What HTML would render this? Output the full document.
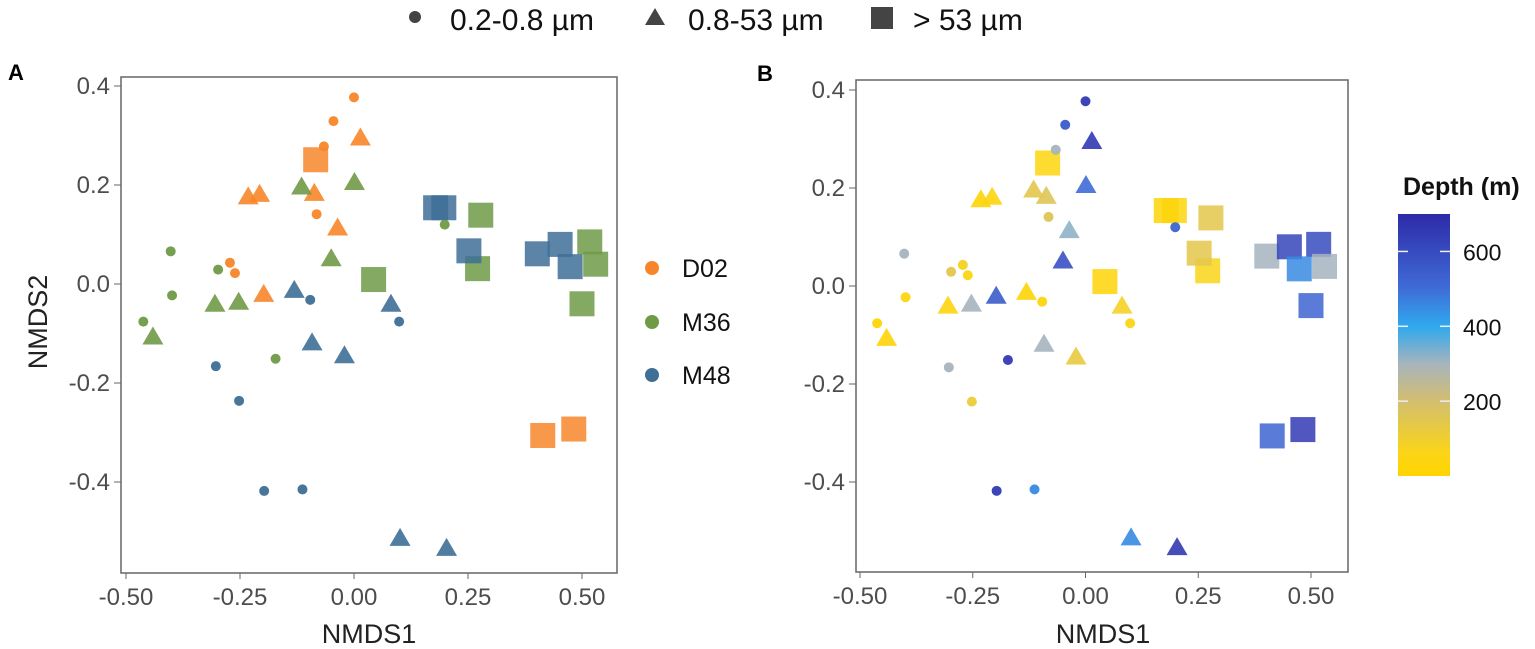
<!DOCTYPE html>
<html><head><meta charset="utf-8"><style>
body{margin:0;background:#fff;}
svg{display:block;font-family:"Liberation Sans",sans-serif;}
</style></head><body>
<svg id="chart" width="1535" height="649" viewBox="0 0 1535 649" xmlns="http://www.w3.org/2000/svg">
<defs>
<linearGradient id="depthGrad" x1="0" y1="1" x2="0" y2="0">
<stop offset="0" stop-color="#FFD400"/>
<stop offset="0.08" stop-color="#FCD514"/>
<stop offset="0.29" stop-color="#D2BE72"/>
<stop offset="0.43" stop-color="#A6B4BE"/>
<stop offset="0.57" stop-color="#2FA9EE"/>
<stop offset="0.72" stop-color="#3F6BD6"/>
<stop offset="1" stop-color="#2E2AA8"/>
</linearGradient>
</defs>
<g>
<circle cx="415" cy="17" r="6" fill="#444"/>
<text x="450" y="30" font-size="30" fill="#111">0.2-0.8 µm</text>
<polygon points="655,8 645,25 665,25" fill="#444"/>
<text x="688" y="30" font-size="30" fill="#111">0.8-53 µm</text>
<rect x="871" y="7" width="22" height="22" fill="#444"/>
<text x="913" y="30" font-size="30" fill="#111">&gt; 53 µm</text>
</g>
<text x="8" y="80" font-size="22" font-weight="bold" fill="#000">A</text>
<text x="757" y="81" font-size="22" font-weight="bold" fill="#000">B</text>
<g id="panelA"></g>
<g id="panelB"></g>
<g>
<circle cx="652" cy="268" r="7" fill="#F7862A"/>
<text x="682" y="277" font-size="25" fill="#111">D02</text>
<circle cx="652" cy="322" r="7" fill="#6F9A46"/>
<text x="682" y="331" font-size="25" fill="#111">M36</text>
<circle cx="652" cy="375" r="7" fill="#3E6F96"/>
<text x="682" y="384" font-size="25" fill="#111">M48</text>
</g>
<g>
<text x="1403" y="195" font-size="25" fill="#111" font-weight="bold">Depth (m)</text>
<rect x="1398" y="214" width="52" height="262" fill="url(#depthGrad)"/>
<g id="cbTicks"></g>
</g>
</svg>
<script>
const NS='http://www.w3.org/2000/svg';
const xTicks=[-0.5,-0.25,0,0.25,0.5];
const xTickLabels=['-0.50','-0.25','0.00','0.25','0.50'];
const yTicks=[0.4,0.2,0,-0.2,-0.4];
const yTickLabels=['0.4','0.2','0.0','-0.2','-0.4'];
const depthTicks=[200,400,600];
const station=['D02','D02','D02','D02','D02','D02','D02','D02','D02','D02','D02','D02','D02','D02','D02',
'M36','M36','M36','M36','M36','M36','M36','M36','M36','M36','M36','M36','M36','M36','M36','M36','M36','M36',
'M48','M48','M48','M48','M48','M48','M48','M48','M48','M48','M48','M48','M48','M48','M48','M48','M48','M48'];
const fraction=['c','c','c','c','c','c','t','t','t','t','t','t','s','s','s',
'c','c','c','c','c','c','t','t','t','t','t','t','s','s','s','s','s','s',
'c','c','c','c','c','c','t','t','t','t','t','t','s','s','s','s','s','s'];
const nmds1=[0.00,-0.045,-0.066,-0.082,-0.272,-0.261, 0.014,-0.232,-0.207,-0.087,-0.036,-0.198, -0.084,0.414,0.482,
-0.402,-0.298,-0.399,-0.462,-0.172,0.199, -0.115,0.001,-0.05,-0.305,-0.253,-0.441, 0.278,0.043,0.271,0.517,0.530,0.500,
-0.096,0.099,-0.303,-0.252,-0.197,-0.113, -0.131,0.081,-0.092,-0.021,0.101,0.203, 0.179,0.197,0.252,0.402,0.452,0.474];
const nmds2=[0.377,0.329,0.278,0.141,0.043,0.022, 0.294,0.175,0.180,0.182,0.112,-0.022, 0.251,-0.306,-0.293,
0.066,0.029,-0.023,-0.076,-0.151,0.120, 0.195,0.204,0.050,-0.042,-0.038,-0.108, 0.139,0.009,0.031,0.085,0.040,-0.040,
-0.032,-0.076,-0.166,-0.236,-0.418,-0.415, -0.014,-0.042,-0.120,-0.146,-0.515,-0.535, 0.154,0.154,0.067,0.061,0.080,0.035];
const depth=[650,550,300,150,50,30, 650,10,20,150,320,550, 20,520,650,
300,130,20,10,650,520, 130,500,580,20,300,10, 130,10,40,600,300,520,
20,40,300,100,650,450, 10,60,300,110,450,650, 10,15,130,300,620,450];

const stationColor={D02:'#F7862A',M36:'#6F9A46',M48:'#3E6F96'};
const depthStops=[[0,[255,212,0]],[30,[252,213,20]],[200,[210,190,114]],[300,[166,180,190]],[400,[47,169,238]],[500,[63,107,214]],[700,[46,42,168]]];
function depthColor(d){
  for(let i=1;i<depthStops.length;i++){
    if(d<=depthStops[i][0]){const a=depthStops[i-1],b=depthStops[i];const t=(d-a[0])/(b[0]-a[0]);
      const c=a[1].map((v,k)=>Math.round(v+(b[1][k]-v)*t));return 'rgb('+c.join(',')+')';}
  }
  return 'rgb(46,42,168)';
}
function mk(tag,attrs,parent){const e=document.createElementNS(NS,tag);for(const k in attrs)e.setAttribute(k,attrs[k]);parent.appendChild(e);return e;}

function drawPanel(g,cfg){
  const sx=v=>cfg.x0+(v+0.5)*(cfg.x1-cfg.x0);
  const sy=v=>cfg.y0-v*(cfg.y0-cfg.y4)/0.4;
  const box=mk('rect',{x:cfg.bl,y:cfg.bt,width:cfg.br-cfg.bl,height:cfg.bb-cfg.bt,fill:'none',stroke:'#666','stroke-width':1.5},g);
  
  
  xTicks.forEach((t,i)=>{
    const x=sx(t);
    const l=mk('line',{x1:x,x2:x,y1:cfg.bb,y2:cfg.bb+6,stroke:'#666','stroke-width':1},g);
    
    
    const tx=mk('text',{x:x,y:cfg.bb+32,'font-size':24,fill:'#4d4d4d','text-anchor':'middle'},g);
    tx.textContent=xTickLabels[i];
    
    
  });
  yTicks.forEach((t,i)=>{
    const y=sy(t);
    const l=mk('line',{x1:cfg.bl-7,x2:cfg.bl,y1:y,y2:y,stroke:'#666','stroke-width':1},g);
    
    
    const tx=mk('text',{x:cfg.bl-11,y:y+8,'font-size':24,fill:'#4d4d4d','text-anchor':'end'},g);
    tx.textContent=yTickLabels[i];
    
    
  });
  const xt=mk('text',{x:cfg.xtx,y:643,'font-size':27,fill:'#222','text-anchor':'middle'},g);
  xt.textContent='NMDS1';
  
  
  if(cfg.ytitle){
    const yt=mk('text',{x:0,y:0,'font-size':27,fill:'#222','text-anchor':'middle',transform:'translate(47,322) rotate(-90)'},g);
    yt.textContent='NMDS2';
    
    
  }
  const order=[];
  fraction.forEach((f,i)=>{if(f==='s')order.push(i);});
  fraction.forEach((f,i)=>{if(f==='t')order.push(i);});
  fraction.forEach((f,i)=>{if(f==='c')order.push(i);});
  order.forEach(i=>{
    const x=sx(nmds1[i]),y=sy(nmds2[i]);
    const col=cfg.mode==='station'?stationColor[station[i]]:depthColor(depth[i]);
    let e;
    if(fraction[i]==='c') e=mk('circle',{cx:x,cy:y,r:5,fill:col,'fill-opacity':0.95},g);
    else if(fraction[i]==='t') e=mk('polygon',{points:`${x},${y-11} ${x-10.5},${y+7} ${x+10.5},${y+7}`,fill:col,'fill-opacity':0.9},g);
    else e=mk('rect',{x:x-12.5,y:y-12.5,width:25,height:25,fill:col,'fill-opacity':0.85},g);
    
    
  });
}
drawPanel(document.getElementById('panelA'),{x0:126,x1:582,y0:284,y4:86,bl:121,br:617,bt:77,bb:573,xtx:369,ytitle:true,mode:'station'});
drawPanel(document.getElementById('panelB'),{x0:860,x1:1311,y0:286,y4:90,bl:856,br:1348,bt:80,bb:572,xtx:1103,ytitle:false,mode:'depth'});
const cb=document.getElementById('cbTicks');
const cy=d=>476-d*(476-214)/700;
depthTicks.forEach(d=>{
  const y=cy(d);
  const a=mk('line',{x1:1398,x2:1408,y1:y,y2:y,stroke:'#eee','stroke-width':1.5},cb);
  
  
  const b=mk('line',{x1:1440,x2:1450,y1:y,y2:y,stroke:'#eee','stroke-width':1.5},cb);
  
  
  const t=mk('text',{x:1463,y:y+9,'font-size':23,fill:'#111'},cb);
  t.textContent=String(d);
  
  
});
</script>
</body></html>
